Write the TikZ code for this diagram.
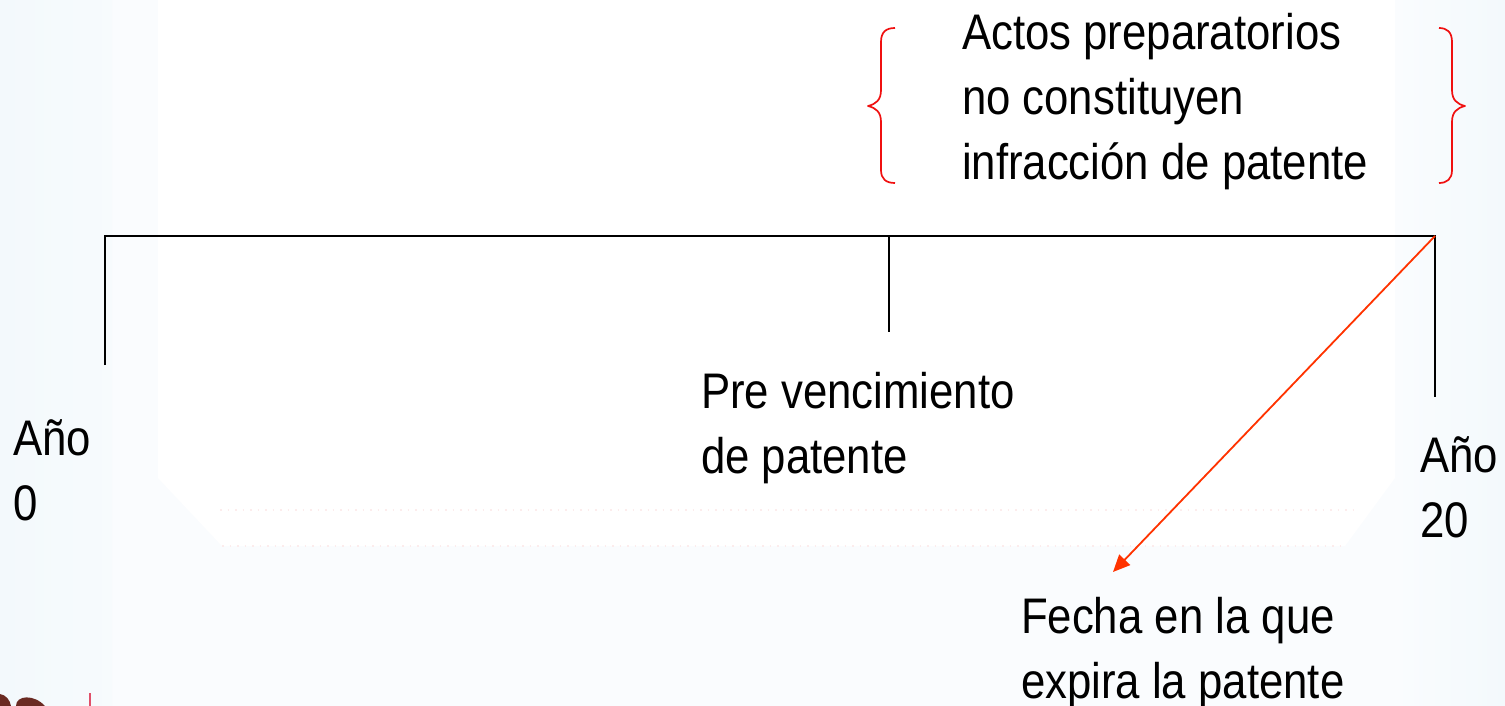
\documentclass[tikz,border=0pt]{standalone}
\usepackage{fontspec}
\setmainfont[FakeStretch=0.875]{Liberation Sans}
\usetikzlibrary{arrows.meta}
\definecolor{palebg}{HTML}{F3F9FC}
\definecolor{tintbg}{HTML}{FAFCFE}
\definecolor{bracered}{HTML}{F01010}
\definecolor{arrowred}{HTML}{FF3300}
\definecolor{logored}{HTML}{E0506A}
\definecolor{logobrown}{HTML}{6A2A22}
\definecolor{dotpink}{HTML}{FCECEC}
\tikzset{
  x=1pt,y=-1pt,
  label text/.style={anchor=north west,inner sep=0pt,outer sep=0pt,align=left,
    font=\fontsize{50}{65}\selectfont,text=black},
  tick/.style={draw=black,line width=1.8pt},
  brace/.style={draw=bracered,line width=1.7pt,line join=round},
  faint dots/.style={draw=dotpink,line width=1.2pt,dash pattern=on 1.5pt off 6pt},
}
\begin{document}
\begin{tikzpicture}
\useasboundingbox (0,0) rectangle (1505,706);
\fill[white] (0,0) rectangle (1505,706);
% background tints
\fill[tintbg] (100,0) rectangle (1505,706);
\fill[left color=palebg,right color=palebg!45!tintbg] (0,0) rectangle (112,706);
\fill[left color=tintbg,right color=palebg] (1395,0) rectangle (1505,706);
\fill[white] (158,0) -- (1395,0) -- (1395,478) -- (1345,546) -- (222,546) -- (158,478) -- cycle;
\draw[faint dots] (222,546) -- (1345,546);
\draw[faint dots] (220,510) -- (1360,510);
% logo fragment
\fill[logobrown] (0,706) -- (0,694) .. controls (6,695) and (10,700) .. (11,706) -- cycle;
\fill[logobrown] (16,706) .. controls (16,695) and (34,694) .. (45,706) -- cycle;
\fill[logored] (88.5,693) rectangle (91,706);
% timeline
\coordinate (start) at (105,236);
\coordinate (startend) at (105,365);
\coordinate (mid) at (889,236);
\coordinate (midend) at (889,332);
\coordinate (end) at (1435,236);
\coordinate (endend) at (1435,397);
\coordinate (tip) at (1113,572);
\draw[tick] (startend) -- (start) -- (end) -- (endend);
\draw[tick] (mid) -- (midend);
\draw[draw=arrowred,line width=1.8pt,-{Triangle[length=17pt,width=15pt]}] (end) -- (tip);
% braces
\draw[brace] (895,28) .. controls (886,28) and (881,32) .. (881,42) -- (881,90)
  .. controls (881,100) and (876,104) .. (868,106)
  .. controls (876,108) and (881,112) .. (881,122) -- (881,170)
  .. controls (881,179) and (886,183) .. (895,183);
\draw[brace] (1439,28) .. controls (1447,28) and (1452,32) .. (1452,42) -- (1452,90)
  .. controls (1452,100) and (1457,104) .. (1465,106)
  .. controls (1457,108) and (1452,112) .. (1452,122) -- (1452,170)
  .. controls (1452,179) and (1447,183) .. (1439,183);
% labels
\node[label text] (actos) at (962,13) {Actos preparatorios\\no constituyen\\infracción de patente};
\node[label text] (pre) at (701,372) {Pre vencimiento\\de patente};
\node[label text] (a0) at (13,420) {Año\\0};
\node[label text] (a20) at (1420,437) {Año\\20};
\node[label text] (fecha) at (1021,597) {Fecha en la que\\expira la patente};
\end{tikzpicture}
\end{document}
